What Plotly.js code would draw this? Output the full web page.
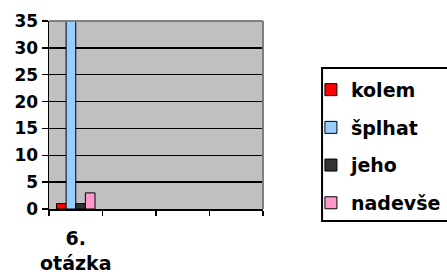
<!DOCTYPE html>
<html>
<head>
<meta charset="utf-8">
<script src="https://cdn.plot.ly/plotly-3.0.1.min.js"></script>
<style>html,body{margin:0;padding:0;background:#fff;}</style>
</head>
<body>
<div id="chart" style="width:447px;height:277px;"></div>
<script>
const categories = ["6.<br>otázka"];
const seriesNames = ["kolem", "šplhat", "jeho", "nadevše"];
const kolem = [1];
const splhat = [35];
const jeho = [1];
const nadevse = [3];
const yTicks = [0, 5, 10, 15, 20, 25, 30, 35];

const seriesValues = [kolem, splhat, jeho, nadevse];
const colors = ["#ff0000", "#99ccff", "#333333", "#ff99cc"];

const xPos = categories.map((c, i) => i);
const traces = seriesNames.map((name, i) => ({
  type: "bar",
  name: "<b>" + name + "</b>",
  x: xPos,
  y: seriesValues[i],
  legendgroup: "g" + i,
  marker: {color: colors[i], line: {color: "#000", width: 1}},
  hoverinfo: "none"
}));

const fam = "DejaVu Sans, Liberation Sans, Arial, sans-serif";

const layout = {
  width: 447, height: 277,
  margin: {l: 49, r: 184, t: 21, b: 68, autoexpand: false},
  paper_bgcolor: "#fff",
  plot_bgcolor: "#c0c0c0",
  barmode: "group",
  bargap: 0.28,
  bargroupgap: 0,
  showlegend: true,
  font: {family: fam, color: "#000"},
  xaxis: {
    range: [-0.5, 3.5],
    tickvals: xPos,
    ticktext: categories.map(c => "<b>" + c.replace("<br>", "</b><br><b>") + "</b>"),
    ticks: "",
    ticklabelstandoff: 11,
    showgrid: false,
    zeroline: false,
    showline: true, linecolor: "#000", linewidth: 2,
    tickfont: {family: fam, size: 19, color: "#000", weight: "bold"},
    minor: {tick0: -0.5, dtick: 1, ticks: "outside", ticklen: 5, tickcolor: "#000", tickwidth: 1.5, showgrid: false},
    fixedrange: true
  },
  yaxis: {
    range: [0, 35],
    tickvals: yTicks,
    ticktext: yTicks.map(v => "<b>" + v + "</b>"),
    ticks: "outside", ticklen: 6, tickcolor: "#000", tickwidth: 1.5,
    showgrid: true, gridcolor: "#000", gridwidth: 1.5,
    zeroline: false,
    showline: true, linecolor: "#000", linewidth: 1.5,
    tickfont: {family: fam, size: 17, color: "#000", weight: "bold"},
    fixedrange: true
  },
  shapes: [
    {type: "line", xref: "paper", yref: "paper", x0: 0, x1: 1, y0: 1, y1: 1, line: {color: "#808080", width: 2}},
    {type: "line", xref: "paper", yref: "paper", x0: 1, x1: 1, y0: 0, y1: 1, line: {color: "#808080", width: 2}},
    {type: "rect", xref: "paper", yref: "paper", x0: 1.276, x1: 1.9, y0: -0.064, y1: 0.75,
     line: {color: "#000", width: 2}, fillcolor: "rgba(0,0,0,0)"}
  ],
  legend: {
    x: 1.224, xanchor: "left",
    y: 0.735, yanchor: "top",
    bgcolor: "rgba(0,0,0,0)",
    borderwidth: 0,
    font: {family: fam, size: 19, color: "#000", weight: "bold"},
    traceorder: "grouped",
    tracegroupgap: 10,
    itemwidth: 30
  }
};

Plotly.newPlot("chart", traces, layout, {staticPlot: true, displayModeBar: false});
</script>
</body>
</html>
